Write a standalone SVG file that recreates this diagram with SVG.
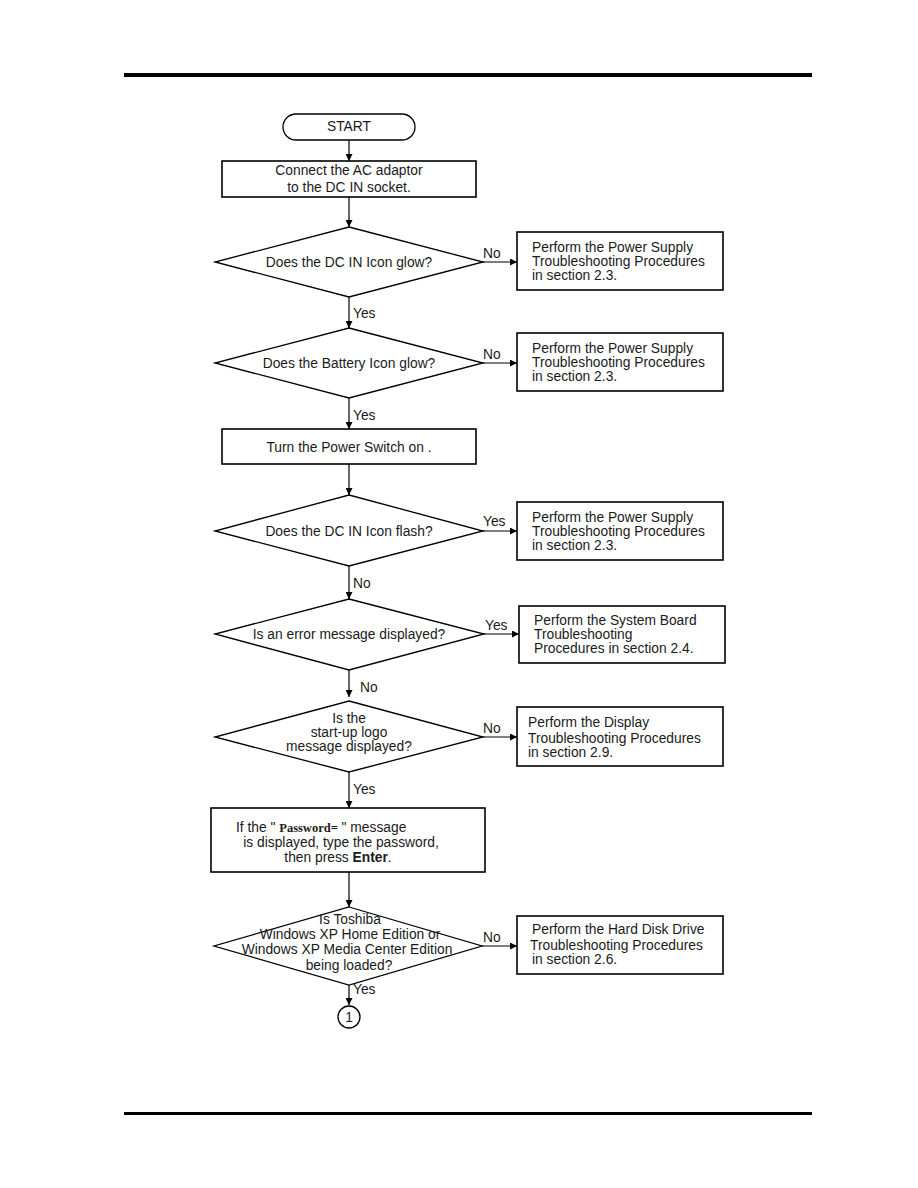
<svg xmlns="http://www.w3.org/2000/svg" width="918" height="1188" viewBox="0 0 918 1188">
<defs>
<marker id="ah" viewBox="0 0 10 10" refX="10" refY="5" markerWidth="8" markerHeight="7" markerUnits="userSpaceOnUse" orient="auto">
<path d="M0,0 L10,5 L0,10 z" fill="#000"/>
</marker>
<style>
text{font-family:"Liberation Sans",Arial,sans-serif;font-size:13.8px;fill:#1a1a1a}
.c{text-anchor:middle}
.shape{fill:#fff;stroke:#000;stroke-width:1.3}
.box{fill:#fff;stroke:#000;stroke-width:1.6}
.conn{fill:none;stroke:#000;stroke-width:1.2}
.pw{font-family:"Liberation Serif","Times New Roman",serif;font-weight:bold;font-size:12.5px}
.b{font-weight:bold}
</style>
</defs>
<rect width="918" height="1188" fill="#fff"/>
<line x1="124" y1="75" x2="812" y2="75" stroke="#000" stroke-width="4"/>
<line x1="124" y1="1113.5" x2="812" y2="1113.5" stroke="#000" stroke-width="3"/>

<g id="connectors">
<line class="conn" x1="349" y1="140" x2="349" y2="161" marker-end="url(#ah)"/>
<line class="conn" x1="349" y1="197" x2="349" y2="227" marker-end="url(#ah)"/>
<line class="conn" x1="349" y1="297" x2="349" y2="328" marker-end="url(#ah)"/>
<line class="conn" x1="349" y1="398" x2="349" y2="429" marker-end="url(#ah)"/>
<line class="conn" x1="349" y1="464" x2="349" y2="495" marker-end="url(#ah)"/>
<line class="conn" x1="349" y1="566" x2="349" y2="599" marker-end="url(#ah)"/>
<line class="conn" x1="349" y1="670" x2="349" y2="697" marker-end="url(#ah)"/>
<line class="conn" x1="349" y1="772" x2="349" y2="808" marker-end="url(#ah)"/>
<line class="conn" x1="349" y1="872" x2="349" y2="907" marker-end="url(#ah)"/>
<line class="conn" x1="349" y1="985" x2="349" y2="1005" marker-end="url(#ah)"/>
<line class="conn" x1="483" y1="262" x2="517" y2="262" marker-end="url(#ah)"/>
<line class="conn" x1="483" y1="363" x2="517" y2="363" marker-end="url(#ah)"/>
<line class="conn" x1="483" y1="531" x2="517" y2="531" marker-end="url(#ah)"/>
<line class="conn" x1="484" y1="634" x2="519" y2="634" marker-end="url(#ah)"/>
<line class="conn" x1="483" y1="737" x2="517" y2="737" marker-end="url(#ah)"/>
<line class="conn" x1="482" y1="946" x2="517" y2="946" marker-end="url(#ah)"/>
<text x="483" y="258">No</text>
<text x="353" y="318">Yes</text>
<text x="483" y="359">No</text>
<text x="353" y="420">Yes</text>
<text x="483" y="526">Yes</text>
<text x="353" y="588">No</text>
<text x="485" y="630">Yes</text>
<text x="360" y="692">No</text>
<text x="483" y="733">No</text>
<text x="353" y="794">Yes</text>
<text x="483" y="942">No</text>
<text x="353" y="994">Yes</text>
</g>

<g id="start">
<rect class="shape" x="283" y="114" width="132" height="26" rx="13"/>
<text class="c" x="349" y="131">START</text>
</g>
<g id="connect-ac">
<rect class="box" x="222" y="161" width="254" height="36"/>
<text class="c" x="349" y="175">Connect the AC adaptor</text>
<text class="c" x="349" y="192">to the DC IN socket.</text>
</g>
<g id="dcin-glow">
<polygon class="shape" points="349,227 483,262 349,297 215,262"/>
<text class="c" x="349" y="267">Does the DC IN Icon glow?</text>
</g>
<g id="ps1">
<rect class="box" x="517" y="232" width="206" height="58"/>
<text x="532" y="252">Perform the Power Supply</text>
<text x="532" y="266">Troubleshooting Procedures</text>
<text x="532" y="280">in section 2.3.</text>
</g>
<g id="battery-glow">
<polygon class="shape" points="349,328 483,363 349,398 215,363"/>
<text class="c" x="349" y="368">Does the Battery Icon glow?</text>
</g>
<g id="ps2">
<rect class="box" x="517" y="333" width="206" height="58"/>
<text x="532" y="353">Perform the Power Supply</text>
<text x="532" y="367">Troubleshooting Procedures</text>
<text x="532" y="381">in section 2.3.</text>
</g>
<g id="power-on">
<rect class="box" x="222" y="429" width="254" height="35"/>
<text class="c" x="349" y="452">Turn the Power Switch on .</text>
</g>
<g id="dcin-flash">
<polygon class="shape" points="349,495 483,531 349,566 215,531"/>
<text class="c" x="349" y="536">Does the DC IN Icon flash?</text>
</g>
<g id="ps3">
<rect class="box" x="517" y="502" width="206" height="58"/>
<text x="532" y="522">Perform the Power Supply</text>
<text x="532" y="536">Troubleshooting Procedures</text>
<text x="532" y="550">in section 2.3.</text>
</g>
<g id="error-msg">
<polygon class="shape" points="349,599 484,634 349,670 215,634"/>
<text class="c" x="349" y="639">Is an error message displayed?</text>
</g>
<g id="sysboard">
<rect class="box" x="519" y="606" width="206" height="57"/>
<text x="534" y="625">Perform the System Board</text>
<text x="534" y="639">Troubleshooting</text>
<text x="534" y="653">Procedures in section 2.4.</text>
</g>
<g id="logo">
<polygon class="shape" points="349,701 483,737 349,772 215,737"/>
<text class="c" x="349" y="723">Is the</text>
<text class="c" x="349" y="737">start-up logo</text>
<text class="c" x="349" y="751">message displayed?</text>
</g>
<g id="display">
<rect class="box" x="517" y="707" width="206" height="59"/>
<text x="528" y="727">Perform the Display</text>
<text x="528" y="743">Troubleshooting Procedures</text>
<text x="528" y="757">in section 2.9.</text>
</g>
<g id="password">
<rect class="box" x="211" y="808" width="274" height="64"/>
<text x="236" y="832">If the " <tspan class="pw">Password=</tspan> "  message</text>
<text class="c" x="341" y="847">is displayed, type the password,</text>
<text class="c" x="338" y="862">then press <tspan class="b">Enter</tspan>.</text>
</g>
<g id="os-loaded">
<polygon class="shape" points="349,907 482,946 349,985 214,946"/>
<text class="c" x="350" y="924">Is Toshiba</text>
<text class="c" x="350" y="939">Windows XP Home Edition or</text>
<text class="c" x="347" y="954">Windows XP Media Center Edition</text>
<text class="c" x="349" y="970">being loaded?</text>
</g>
<g id="hdd">
<rect class="box" x="517" y="916" width="206" height="58"/>
<text x="532" y="934">Perform the Hard Disk Drive</text>
<text x="530" y="950">Troubleshooting Procedures</text>
<text x="532" y="964">in section 2.6.</text>
</g>
<g id="conn1">
<circle class="shape" cx="349" cy="1017" r="11"/>
<text class="c" x="349" y="1022">1</text>
</g>
</svg>
